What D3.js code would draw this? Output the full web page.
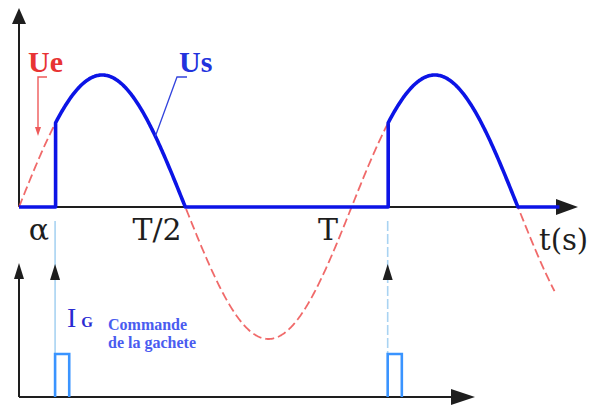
<!DOCTYPE html>
<html>
<head>
<meta charset="utf-8">
<script src="https://cdn.jsdelivr.net/npm/d3@7/dist/d3.min.js"></script>
<style>
  html, body { margin: 0; padding: 0; background: #fff; }
  svg { display: block; }
</style>
</head>
<body>
<svg id="chart" width="600" height="406"></svg>
<script>
// Single-phase thyristor rectifier: supply voltage Ue, output voltage Us,
// and gate pulses IG fired at angle alpha in each period.
const periodMs = 20;                 // T (ms)
const amplitude = 1;                 // normalised peak of Ue
const firingTimes = [2.17, 22.17];   // gate pulse instants (ms), alpha ≈ 39°
const pulseWidth = 0.85;             // gate pulse duration (ms)
const ueEnd = 32.2;                  // end of drawn supply curve (ms)
const usEnd = 32.5;                  // end of drawn output curve (ms)
const tickLabels = ["α", "T/2", "T"];

const svg = d3.select("#chart");

const x = d3.scaleLinear().domain([0, periodMs]).range([19, 351.6]);
const y = d3.scaleLinear().domain([-amplitude, amplitude]).range([339, 75]);
const yG = d3.scaleLinear().domain([0, 1]).range([397, 354]);

const ue = t => amplitude * Math.sin(2 * Math.PI * t / periodMs);

// conducting when the supply is positive and the thyristor has been fired
function us(t) {
  const phase = ((t % periodMs) + periodMs) % periodMs;
  return (phase >= firingTimes[0] && phase <= periodMs / 2) ? ue(t) : 0;
}

const axisColor = "#1e1e1e";
const usColor = "#0c14e6";
const ueColor = "#ee5a5a";
const gateColor = "#3a94ff";
const labelFont = "DejaVu Serif, serif";

function arrowHead(g, tipX, tipY, dir, len, half) {
  const pts = dir === "up"
    ? [[tipX, tipY], [tipX - half, tipY + len], [tipX + half, tipY + len]]
    : [[tipX, tipY], [tipX - len, tipY - half], [tipX - len, tipY + half]];
  g.append("path").attr("d", d3.line()(pts) + "Z").attr("fill", axisColor);
}

// ---- top plot axes
const axes = svg.append("g");
axes.append("line").attr("x1", x(0)).attr("x2", x(0)).attr("y1", y(0)).attr("y2", 20)
  .attr("stroke", axisColor).attr("stroke-width", 2);
arrowHead(axes, x(0), 8, "up", 16, 7);
axes.append("line").attr("x1", x(0)).attr("x2", 560).attr("y1", y(0)).attr("y2", y(0))
  .attr("stroke", axisColor).attr("stroke-width", 2);

// ---- supply voltage Ue (dashed)
const line = d3.line().x(d => x(d[0])).y(d => y(d[1]));
svg.append("path")
  .attr("d", line(d3.range(0, ueEnd + 0.001, 0.05).map(t => [t, ue(t)])))
  .attr("fill", "none").attr("stroke", ueColor).attr("stroke-width", 1.8)
  .attr("stroke-dasharray", "9,4").attr("opacity", 0.9);

// ---- output voltage Us (thick blue), vertical step at each firing
const usData = [];
let prev = 0;
d3.range(0, usEnd + 0.0001, 0.05).forEach(t => {
  const v = us(t);
  if (prev === 0 && v > 0) usData.push([t, 0]);
  usData.push([t, v]);
  prev = v;
});
svg.append("path")
  .attr("d", line(usData))
  .attr("fill", "none").attr("stroke", usColor).attr("stroke-width", 3.6)
  .attr("stroke-linejoin", "round");

arrowHead(axes, 578, y(0), "right", 22, 8);

// ---- labels on the time axis
const labelX = [39, 157, 328];
svg.append("g").selectAll("text").data(tickLabels).join("text")
  .attr("x", (d, i) => labelX[i])
  .attr("y", 240)
  .attr("text-anchor", "middle")
  .attr("font-family", labelFont)
  .attr("font-size", 30)
  .attr("fill", axisColor)
  .text(d => d);

svg.append("text").attr("x", 539).attr("y", 250)
  .attr("font-family", labelFont).attr("font-size", 29)
  .attr("fill", axisColor).text("t(s)");

// ---- Ue label with pointer
svg.append("text").attr("x", 28).attr("y", 72)
  .attr("font-family", "Liberation Serif, serif").attr("font-weight", "bold")
  .attr("font-size", 30).attr("fill", "#e83434").text("Ue");
svg.append("path").attr("d", "M47,77 L38,77 L38,128")
  .attr("fill", "none").attr("stroke", ueColor).attr("stroke-width", 1.4);
svg.append("path").attr("d", "M38,136 L35,127 L41,127 Z").attr("fill", ueColor);

// ---- Us label with pointer
svg.append("text").attr("x", 179).attr("y", 72)
  .attr("font-family", "Liberation Serif, serif").attr("font-weight", "bold")
  .attr("font-size", 30).attr("fill", "#2233dd").text("Us");
svg.append("path").attr("d", `M187,77 L177,77 L${x(8.2)},${y(ue(8.2))}`)
  .attr("fill", "none").attr("stroke", "#3344dd").attr("stroke-width", 1.3);

// ---- gate pulses
const gate = svg.append("g");
gate.append("line").attr("x1", x(0)).attr("x2", x(0)).attr("y1", yG(0)).attr("y2", 272)
  .attr("stroke", axisColor).attr("stroke-width", 2);
arrowHead(gate, x(0), 263, "up", 16, 5);
gate.append("line").attr("x1", x(0)).attr("x2", 455).attr("y1", yG(0)).attr("y2", yG(0))
  .attr("stroke", axisColor).attr("stroke-width", 2);
arrowHead(gate, 475, yG(0), "right", 24, 8);

firingTimes.forEach((ft, i) => {
  const gx = x(ft);
  gate.append("line").attr("x1", gx).attr("x2", gx).attr("y1", 221).attr("y2", yG(1))
    .attr("stroke", "#a9d3f2").attr("stroke-width", 1.6)
    .attr("stroke-dasharray", i === 1 ? "10,3" : null);
  arrowHead(gate, gx, 264, "up", 16, 5);
  gate.append("path")
    .attr("d", d3.line()([[gx, yG(0)], [gx, yG(1)], [x(ft + pulseWidth), yG(1)], [x(ft + pulseWidth), yG(0)]]))
    .attr("fill", "none").attr("stroke", gateColor).attr("stroke-width", 2.6);
});

// ---- IG label
const ig = svg.append("text").attr("x", 67).attr("y", 327)
  .attr("font-family", "Liberation Serif, serif").attr("fill", "#2a2ad2");
ig.append("tspan").attr("font-size", 28).text("I");
ig.append("tspan").attr("font-size", 15).attr("font-weight", "bold").attr("dx", 5).text("G");

svg.append("text").attr("x", 108).attr("y", 330)
  .attr("font-family", "Liberation Serif, serif").attr("font-weight", "bold")
  .attr("font-size", 16).attr("fill", "#4a5cf0").text("Commande");
svg.append("text").attr("x", 108).attr("y", 348)
  .attr("font-family", "Liberation Serif, serif").attr("font-weight", "bold")
  .attr("font-size", 16).attr("fill", "#4a5cf0").text("de la gachete");
</script>
</body>
</html>
